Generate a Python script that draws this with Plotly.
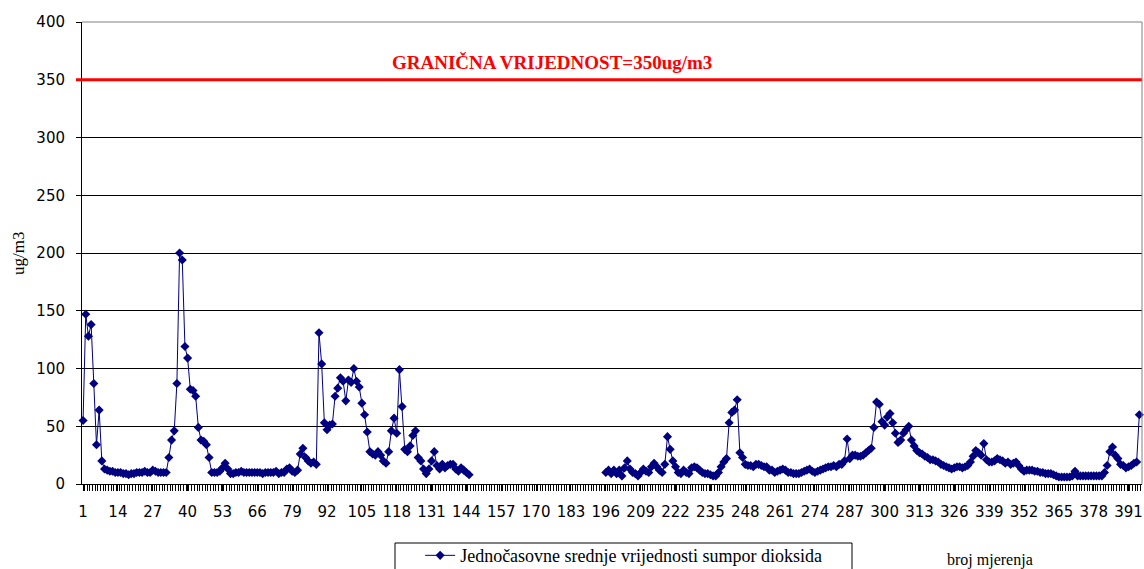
import plotly.graph_objects as go

# Measured hourly SO2 values (ug/m3), measurements 1..145
seg_first = [
    55, 147, 128, 138, 87, 34, 64, 20, 13, 12,
    11, 11, 10, 10, 10, 9, 9, 8, 9, 9,
    10, 10, 10, 11, 10, 10, 12, 11, 10, 10,
    10, 10, 23, 38, 46, 87, 200, 194, 119, 109,
    82, 81, 76, 49, 38, 37, 34, 23, 10, 10,
    10, 11, 14, 18, 13, 9, 9, 10, 10, 11,
    10, 10, 10, 10, 10, 10, 10, 9, 10, 10,
    10, 10, 11, 9, 10, 10, 13, 14, 11, 10,
    12, 26, 31, 23, 20, 18, 19, 17, 131, 104,
    53, 47, 51, 52, 76, 83, 92, 89, 72, 90,
    88, 100, 89, 84, 70, 60, 45, 28, 26, 25,
    28, 25, 20, 18, 28, 46, 57, 44, 99, 67,
    30, 28, 33, 42, 46, 23, 20, 13, 9, 13,
    20, 28, 16, 13, 17, 14, 16, 17, 17, 13,
    11, 14, 12, 10, 8,
]
# measurements 146..195 missing
gap_count = 50
# measurements 196..395
seg_second = [
    10, 12, 9, 12, 9, 12, 7, 14, 20, 13,
    10, 9, 7, 10, 13, 11, 10, 15, 18, 15,
    12, 10, 17, 41, 30, 20, 15, 10, 9, 12,
    10, 9, 14, 15, 14, 12, 10, 9, 9, 8,
    7, 7, 10, 15, 19, 22, 53, 62, 64, 73,
    27, 23, 17, 16, 16, 15, 17, 17, 16, 15,
    15, 12, 12, 10, 11, 12, 13, 12, 10, 10,
    9, 9, 9, 10, 11, 12, 13, 11, 10, 11,
    12, 13, 14, 15, 15, 16, 15, 17, 17, 20,
    39, 22, 25, 25, 24, 24, 25, 27, 29, 31,
    49, 71, 69, 54, 51, 58, 61, 53, 44, 36,
    38, 44, 47, 50, 38, 33, 29, 27, 26, 24,
    23, 21, 21, 20, 19, 17, 16, 15, 14, 13,
    14, 15, 15, 14, 15, 16, 19, 24, 29, 27,
    25, 35, 21, 19, 19, 20, 22, 21, 20, 18,
    19, 17, 18, 19, 16, 13, 11, 12, 12, 12,
    11, 11, 10, 10, 9, 9, 9, 8, 7, 6,
    6, 6, 6, 6, 7, 11, 7, 7, 7, 7,
    7, 7, 7, 7, 7, 7, 10, 16, 28, 32,
    25, 22, 17, 16, 14, 15, 16, 18, 19, 60,
]
so2_values = seg_first + [None] * gap_count + seg_second
measurement_no = list(range(1, len(so2_values) + 1))

limit_value = 350
limit_label = "GRANIČNA VRIJEDNOST=350ug/m3"
series_name = "Jednočasovne srednje vrijednosti sumpor dioksida"
y_ticks = [0, 50, 100, 150, 200, 250, 300, 350, 400]
x_tick_start, x_tick_step = 1, 13

navy = "#000080"
serif = "Liberation Serif"
sans = "DejaVu Sans"

fig = go.Figure()
fig.add_trace(go.Scatter(
    x=measurement_no, y=so2_values, mode="lines+markers",
    name=series_name,
    line=dict(color=navy, width=1),
    marker=dict(symbol="diamond", size=7, color=navy),
    connectgaps=False, cliponaxis=False,
))

fig.update_layout(
    width=1144, height=569,
    margin=dict(l=82, r=2, t=22, b=85, autoexpand=False),
    paper_bgcolor="white", plot_bgcolor="white",
    showlegend=True,
    legend=dict(
        orientation="h", x=0.319, xanchor="left", y=-0.115, yanchor="top",
        borderwidth=0, bgcolor="rgba(0,0,0,0)",
        font=dict(family=serif, size=18, color="black"),
    ),
    xaxis=dict(
        range=[0.6, 396], tickmode="linear", tick0=x_tick_start, dtick=x_tick_step,
        showgrid=False, zeroline=False, showline=True, linecolor="black", linewidth=1,
        ticks="outside", ticklen=6, tickcolor="black",
        minor=dict(dtick=1, tick0=0.5, ticks="outside", ticklen=6, tickcolor="black", showgrid=False),
        tickfont=dict(family=sans, size=15, color="black"),
        ticklabelstandoff=8, automargin=False,
    ),
    yaxis=dict(
        range=[0, 400], tickmode="array", tickvals=y_ticks,
        showgrid=True, gridcolor="black", gridwidth=1,
        zeroline=False, showline=True, linecolor="black", linewidth=1,
        ticks="outside", ticklen=5, tickcolor="black",
        tickfont=dict(family=sans, size=15, color="black"),
        ticklabelstandoff=8, automargin=False,
    ),
)

# limit line
fig.add_shape(type="line", xref="paper", yref="y", x0=-6/1060, x1=1, y0=limit_value, y1=limit_value,
              line=dict(color="red", width=3), layer="above")
# plot area border (top and right)
fig.add_shape(type="line", xref="paper", yref="paper", x0=0, x1=1, y0=1, y1=1,
              line=dict(color="#808080", width=1), layer="above")
fig.add_shape(type="line", xref="paper", yref="paper", x0=1, x1=1, y0=0, y1=1,
              line=dict(color="#808080", width=1), layer="above")
# legend frame
fig.add_shape(type="rect", xref="paper", yref="paper",
              x0=(395 - 82) / 1060, x1=(852 - 82) / 1060,
              y0=(484 - 543) / 462, y1=(484 - 600) / 462,
              line=dict(color="black", width=1), fillcolor="rgba(0,0,0,0)", layer="above")

fig.add_annotation(text="<b>" + limit_label + "</b>", xref="paper", yref="y",
                   x=0.443, y=365, xanchor="center", yanchor="middle", showarrow=False,
                   font=dict(family=serif, size=19, color="red"))
fig.add_annotation(text="ug/m3", xref="paper", yref="paper", x=-0.0604, y=0.5,
                   xanchor="center", yanchor="middle",
                   textangle=-90, showarrow=False,
                   font=dict(family=serif, size=17, color="black"))
fig.add_annotation(text="broj mjerenja", xref="paper", yref="paper", x=0.857, y=-0.1645,
                   xanchor="center", yanchor="middle",
                   showarrow=False, font=dict(family=serif, size=16, color="black"))

fig.write_html(
    "out.html",
    config={"displayModeBar": False},
    post_script="document.body.style.margin='0';document.body.style.overflow='hidden';",
)
